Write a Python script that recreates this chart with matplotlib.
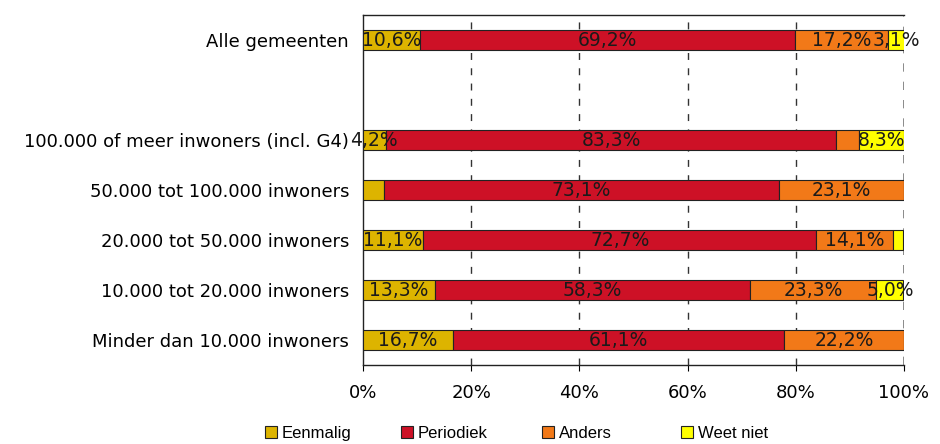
import matplotlib
matplotlib.use('Agg')
import matplotlib.pyplot as plt
import numpy as np

# categories from bottom to top (position 5 stays empty)
categories = ['Minder dan 10.000 inwoners', '10.000 tot 20.000 inwoners',
              '20.000 tot 50.000 inwoners', '50.000 tot 100.000 inwoners',
              '100.000 of meer inwoners (incl. G4)', '', 'Alle gemeenten']
series = ['Eenmalig', 'Periodiek', 'Anders', 'Weet niet']

eenmalig = [16.7, 13.3, 11.1, 3.8, 4.2, 0, 10.6]
periodiek = [61.1, 58.3, 72.7, 73.1, 83.3, 0, 69.2]
anders = [22.2, 23.3, 14.1, 23.1, 4.2, 0, 17.2]
weet_niet = [0.0, 5.0, 2.0, 0.0, 8.3, 0, 3.1]

# which segments carry a value label
show_eenmalig = [1, 1, 1, 0, 1, 0, 1]
show_periodiek = [1, 1, 1, 1, 1, 0, 1]
show_anders = [1, 1, 1, 1, 0, 0, 1]
show_weet_niet = [0, 1, 0, 0, 1, 0, 1]

colors = ['#DDB400', '#CD1126', '#F27918', '#FFFF00']

plt.rcParams['font.family'] = ['DejaVu Sans']

fig = plt.figure(figsize=(9.4, 4.44), dpi=100)
ax = fig.add_axes([363/940, 1-365/444, (904-363)/940, 350/444])

y = np.arange(len(categories))
data = [eenmalig, periodiek, anders, weet_niet]
shows = [show_eenmalig, show_periodiek, show_anders, show_weet_niet]
left = np.zeros(len(categories))
bars = []
for vals, show, col, name in zip(data, shows, colors, series):
    vals = np.array(vals)
    mask = np.array([i != 5 for i in range(len(categories))])
    b = ax.barh(y[mask], vals[mask], left=left[mask], height=0.4, color=col,
                edgecolor='#222222', linewidth=0.8, label=name, zorder=3)
    bars.append(b)
    for i in range(len(categories)):
        if show[i]:
            txt = ('%.1f%%' % vals[i]).replace('.', ',')
            ax.text(left[i] + vals[i]/2, y[i], txt, ha='center', va='center',
                    fontsize=13.5, color='#1a1a1a', zorder=4, clip_on=False)
    left = left + vals

ax.set_xlim(0, 100)
ax.set_ylim(-0.5, 6.5)
ax.set_xticks([0, 20, 40, 60, 80, 100])
ax.set_xticklabels(['0%', '20%', '40%', '60%', '80%', '100%'], fontsize=13)
ax.set_yticks(y)
ax.set_yticklabels(categories, fontsize=13)
ax.tick_params(axis='y', length=0, pad=10)
ax.tick_params(axis='x', length=4, direction='out', pad=10)
for x in [20, 40, 60, 80]:
    ax.axvline(x, color='#333333', linestyle=(0, (5, 6)), linewidth=1, zorder=1)
ax.axvline(100, color='#777777', linestyle=(0, (5, 6)), linewidth=1.2, zorder=1)
ax.spines['right'].set_visible(False)
for s in ['left', 'top', 'bottom']:
    ax.spines[s].set_color('#222222')
    ax.spines[s].set_linewidth(1)

# legend: fixed column positions like the original (fig.legend keeps each one)
leg_x = [265, 401, 542, 681]
for b, name, lx in zip(bars, series, leg_x):
    fig.legend([b], [name], loc='center left',
               bbox_to_anchor=(lx/940, 1-433/444), frameon=False,
               borderpad=0, borderaxespad=0, handlelength=0.7,
               handleheight=0.7, handletextpad=0.3,
               prop={'family': 'Liberation Sans', 'size': 12})

fig.savefig('out.png', dpi=100)
